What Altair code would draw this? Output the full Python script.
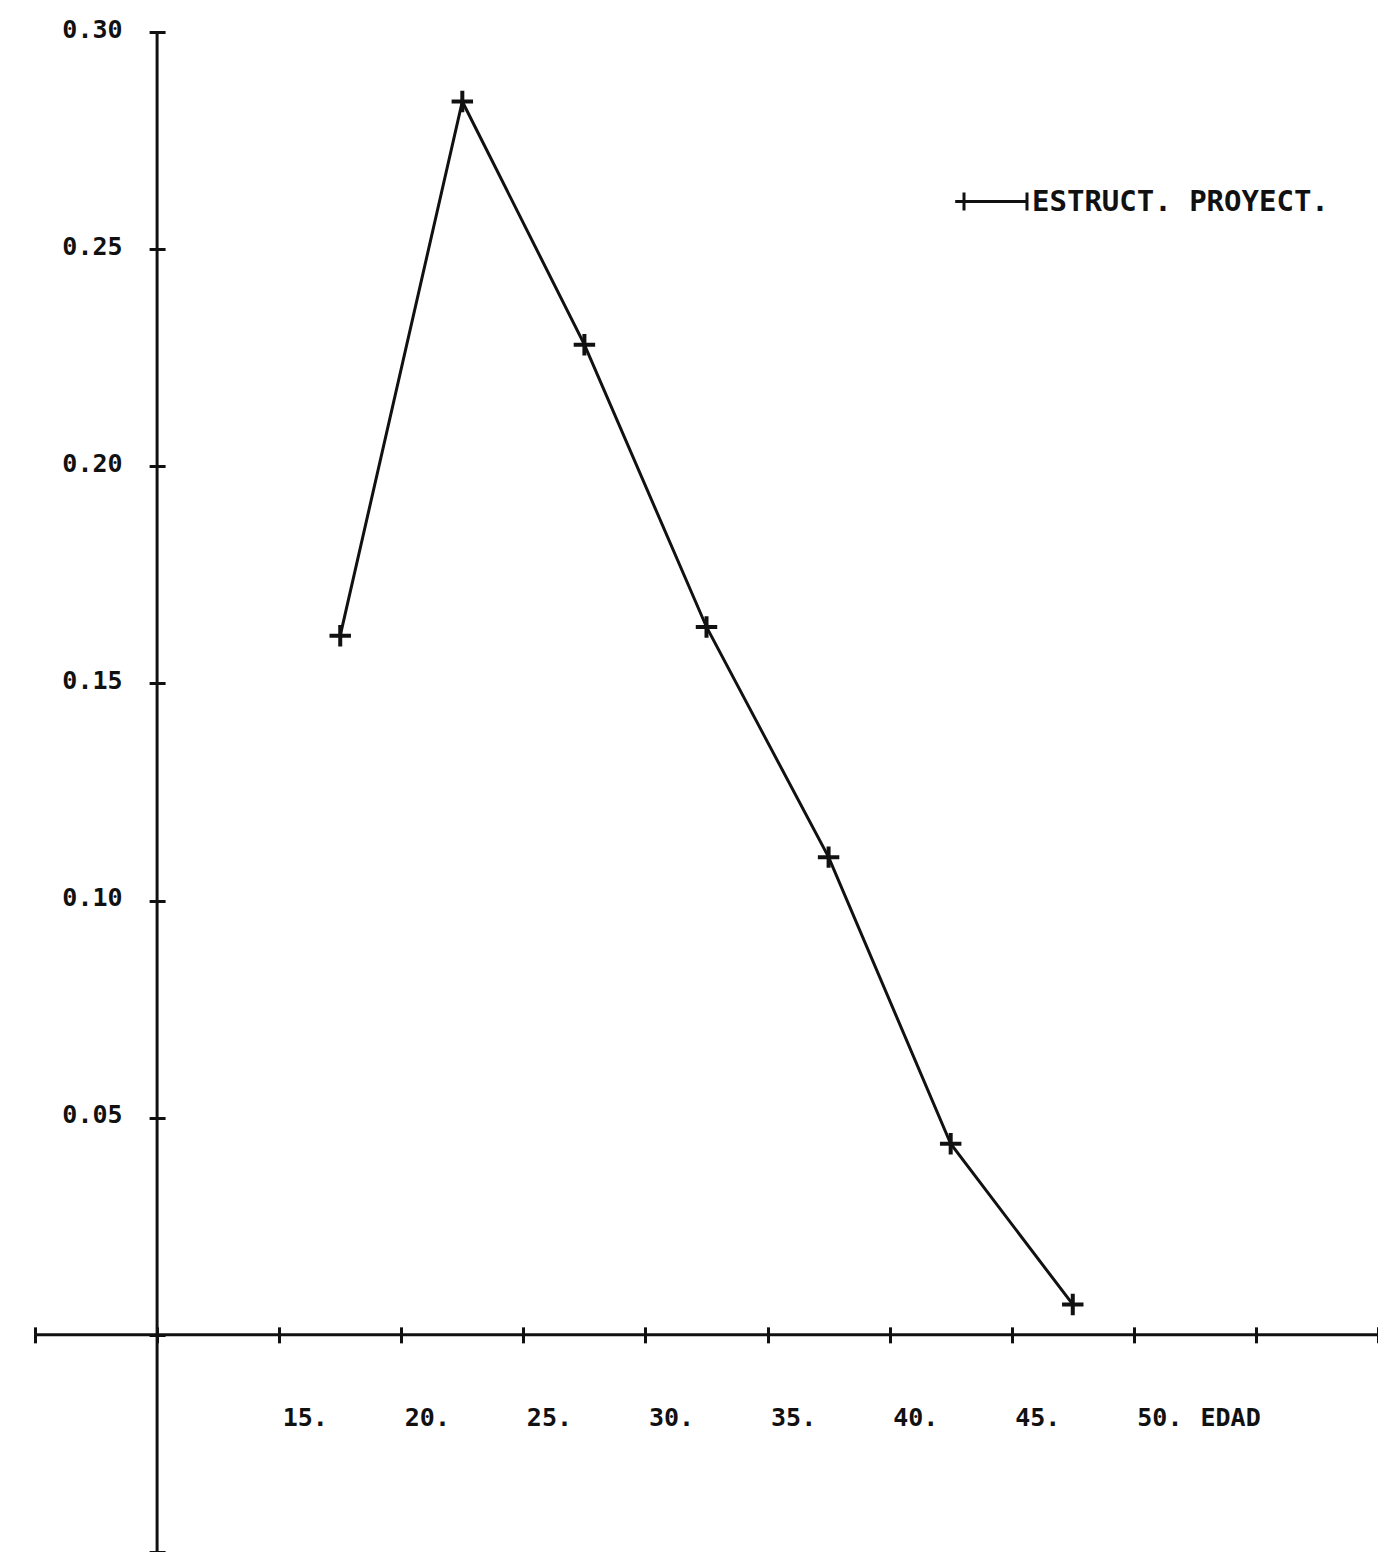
import altair as alt
import pandas as pd

# ---- data ----
edad = [17.5, 22.5, 27.5, 32.5, 37.5, 42.5, 47.5]
valor = [0.161, 0.284, 0.228, 0.163, 0.110, 0.044, 0.007]
serie_nombre = "ESTRUCT. PROYECT."
x_ticks = [5, 10, 15, 20, 25, 30, 35, 40, 45, 50, 55, 60]
y_ticks = [-0.05, 0.0, 0.05, 0.10, 0.15, 0.20, 0.25, 0.30]
x_domain = [5, 60]
y_domain = [-0.05, 0.30]
x_title = "EDAD"
eje_x_origen = 10   # where the vertical axis crosses
eje_y_origen = 0.0  # where the horizontal axis crosses

df = pd.DataFrame({"edad": edad, "valor": valor, "serie": [serie_nombre] * len(edad)})
df_xaxis = pd.DataFrame({"edad": [x_domain[0]], "edad2": [x_domain[1]], "valor": [eje_y_origen]})
df_yaxis = pd.DataFrame({"edad": [eje_x_origen], "valor": [y_domain[0]], "valor2": [y_domain[1]]})

FONT = "DejaVu Sans Mono"
W, H = 1343, 1520
INK = "#111111"

xscale = alt.Scale(domain=x_domain, nice=False, zero=False)
yscale = alt.Scale(domain=y_domain, nice=False, zero=False)

# pixel position of the crossing lines inside the plot
x_cross_px = (eje_x_origen - x_domain[0]) / (x_domain[1] - x_domain[0]) * W
y_cross_px = (eje_y_origen - y_domain[0]) / (y_domain[1] - y_domain[0]) * H
TICK = 16

x_axis = alt.Axis(
    values=x_ticks, domain=False, grid=False,
    tickSize=TICK, tickWidth=3, tickColor=INK, offset=-(y_cross_px + TICK / 2),
    labelExpr="datum.value >= 15 && datum.value <= 50 ? datum.value + '.' : ''",
    labelAlign="left", labelBaseline="middle", labelPadding=75, labelOffset=3,
    labelFont=FONT, labelFontSize=25, labelFontWeight="bold", labelColor=INK,
    labelFlush=False, labelOverlap=False,
    title=x_title, titleX=1165, titleY=91, titleAlign="left", titleBaseline="middle",
    titleAngle=0, titleFont=FONT, titleFontSize=25, titleFontWeight="bold", titleColor=INK,
)
y_axis = alt.Axis(
    values=y_ticks, domain=False, grid=False,
    tickSize=TICK, tickWidth=3, tickColor=INK, offset=-(x_cross_px + TICK / 2),
    labelExpr="datum.value > 0.01 ? format(datum.value, '.2f') : ''",
    labelAlign="right", labelBaseline="alphabetic", labelPadding=27, labelOffset=5,
    labelFont=FONT, labelFontSize=25, labelFontWeight="bold", labelColor=INK,
    labelFlush=False, labelOverlap=False,
    title="",
)

def X(field="edad"):
    return alt.X(f"{field}:Q", scale=xscale, axis=x_axis)

def Y(field="valor"):
    return alt.Y(f"{field}:Q", scale=yscale, axis=y_axis)

xaxis_rule = alt.Chart(df_xaxis).mark_rule(color=INK, strokeWidth=3).encode(
    x=X(), x2=alt.X2("edad2"), y=Y()
)
yaxis_rule = alt.Chart(df_yaxis).mark_rule(color=INK, strokeWidth=3).encode(
    x=X(), y=Y(), y2=alt.Y2("valor2")
)

# "+----+" legend sample
legend_symbol = "M-1.016,0H1.016M-1.016,-0.29V0.29M1.016,-0.29V0.29M-1.3,0H-0.73"

line = alt.Chart(df).mark_line(strokeWidth=3).encode(
    x=X(), y=Y(),
    color=alt.Color(
        "serie:N",
        scale=alt.Scale(range=[INK]),
        legend=alt.Legend(
            title=None, orient="none", legendX=928, legendY=137,
            symbolType=legend_symbol, symbolSize=3844, symbolStrokeWidth=3,
            symbolStrokeColor=INK, symbolFillColor="transparent",
            labelFont=FONT, labelFontSize=29, labelFontWeight="bold", labelColor=INK,
            labelOffset=4, padding=0, labelLimit=600,
        ),
    ),
)

points = alt.Chart(df).mark_point(
    shape="M-1,0H1M0,-1V1", size=460, strokeWidth=4, color=INK, filled=False, opacity=1
).encode(x=X(), y=Y())

chart = alt.layer(xaxis_rule, yaxis_rule, line, points).properties(
    width=W, height=H,
    autosize=alt.AutoSizeParams(type="none"),
    padding={"left": 27, "top": 24, "right": 0, "bottom": 0},
    background="white",
).configure_view(stroke=None)

chart.save("out.html", embed_options={"renderer": "svg", "actions": False})
